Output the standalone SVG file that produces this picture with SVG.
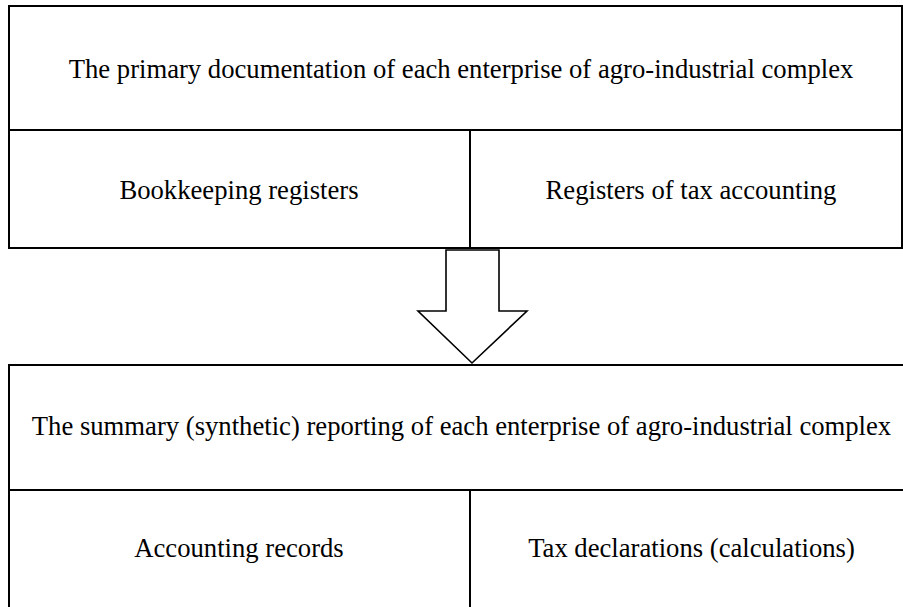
<svg xmlns="http://www.w3.org/2000/svg" width="903" height="607" viewBox="0 0 903 607">
<style>
.box{fill:#fff;stroke:#000;stroke-width:2}
.div{stroke:#000;stroke-width:2;fill:none}
.t{font-family:"Liberation Serif","Times New Roman",serif;font-size:26.67px;fill:#000;text-anchor:middle}
.arrow{fill:#fff;stroke:#000;stroke-width:1.6;stroke-linejoin:miter}
</style>
<rect width="903" height="607" fill="#fff"/>
<g id="top-block">
<rect class="box" x="9" y="6" width="893" height="242"/>
<line class="div" x1="9" y1="130" x2="902" y2="130"/>
<line class="div" x1="470" y1="130" x2="470" y2="248"/>
</g>
<g id="primary-doc"><text class="t" x="461" y="78">The primary documentation of each enterprise of agro-industrial complex</text></g>
<g id="bookkeeping"><text class="t" x="239" y="199">Bookkeeping registers</text></g>
<g id="tax-registers"><text class="t" x="691" y="199">Registers of tax accounting</text></g>
<g id="connectors">
<polygon class="arrow" points="446,250 446,311 418,311 472,363 527,311 499,311 499,250"/>
</g>
<g id="bottom-block">
<rect class="box" x="9" y="365" width="900" height="250"/>
<line class="div" x1="9" y1="490" x2="905" y2="490"/>
<line class="div" x1="470" y1="490" x2="470" y2="610"/>
</g>
<g id="summary"><text class="t" x="461.5" y="435">The summary (synthetic) reporting of each enterprise of agro-industrial complex</text></g>
<g id="accounting"><text class="t" x="239" y="557">Accounting records</text></g>
<g id="tax-decl"><text class="t" x="691.5" y="557">Tax declarations (calculations)</text></g>
</svg>
